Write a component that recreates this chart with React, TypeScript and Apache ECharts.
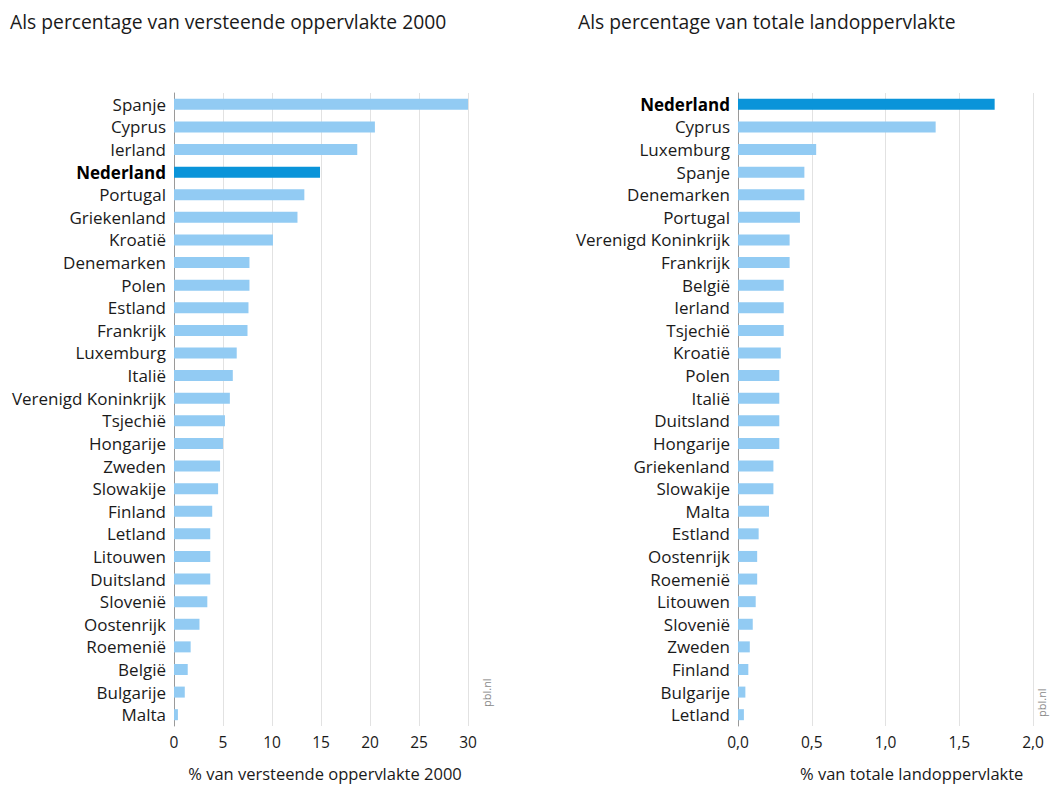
import React, { useEffect, useRef } from "react";
import * as echarts from "echarts";

const leftCategories = [
  "Spanje", "Cyprus", "Ierland", "Nederland", "Portugal", "Griekenland", "Kroatië",
  "Denemarken", "Polen", "Estland", "Frankrijk", "Luxemburg", "Italië",
  "Verenigd Koninkrijk", "Tsjechië", "Hongarije", "Zweden", "Slowakije", "Finland",
  "Letland", "Litouwen", "Duitsland", "Slovenië", "Oostenrijk", "Roemenië", "België",
  "Bulgarije", "Malta",
];
const leftValues = [
  30.0, 20.5, 18.7, 14.9, 13.3, 12.6, 10.1, 7.7, 7.7, 7.6, 7.5, 6.4, 6.0, 5.7, 5.2,
  5.0, 4.7, 4.5, 3.9, 3.7, 3.7, 3.7, 3.4, 2.6, 1.7, 1.4, 1.1, 0.4,
];

const rightCategories = [
  "Nederland", "Cyprus", "Luxemburg", "Spanje", "Denemarken", "Portugal",
  "Verenigd Koninkrijk", "Frankrijk", "België", "Ierland", "Tsjechië", "Kroatië",
  "Polen", "Italië", "Duitsland", "Hongarije", "Griekenland", "Slowakije", "Malta",
  "Estland", "Oostenrijk", "Roemenië", "Litouwen", "Slovenië", "Zweden", "Finland",
  "Bulgarije", "Letland",
];
const rightValues = [
  1.74, 1.34, 0.53, 0.45, 0.45, 0.42, 0.35, 0.35, 0.31, 0.31, 0.31, 0.29, 0.28, 0.28,
  0.28, 0.28, 0.24, 0.24, 0.21, 0.14, 0.13, 0.13, 0.12, 0.10, 0.08, 0.07, 0.05, 0.04,
];

const leftTitle = "Als percentage van versteende oppervlakte 2000";
const rightTitle = "Als percentage van totale landoppervlakte";
const leftAxisName = "% van versteende oppervlakte 2000";
const rightAxisName = "% van totale landoppervlakte";
const highlight = "Nederland";

const FONT = "Open Sans";
const LIGHT = "#92cbf3";
const DARK = "#0a94d9";
const TEXT = "#1a1a1a";

function barData(cats: string[], vals: number[]) {
  return vals.map((v, i) => ({
    value: v,
    itemStyle: { color: cats[i] === highlight ? DARK : LIGHT },
  }));
}

function yAxis(gridIndex: number, cats: string[]) {
  return {
    type: "category",
    gridIndex,
    data: cats,
    inverse: true,
    axisLine: { show: true, lineStyle: { color: "#9a9a9a", width: 1 } },
    axisTick: { show: false },
    axisLabel: {
      fontFamily: FONT,
      fontSize: 17,
      color: TEXT,
      margin: 8,
      formatter: (v: string) => (v === highlight ? `{b|${v}}` : v),
      rich: {
        b: { fontFamily: FONT, fontSize: 17, fontWeight: "bold", color: "#000" },
      },
    },
  };
}

function xAxis(gridIndex: number, max: number, interval: number, fmt: (v: number) => string) {
  return {
    type: "value",
    gridIndex,
    min: 0,
    max,
    interval,
    axisLine: { show: false },
    axisTick: { show: false },
    splitLine: { show: true, lineStyle: { color: "#e2e2e2", width: 1 } },
    axisLabel: {
      fontFamily: FONT,
      fontSize: 15.5,
      color: TEXT,
      margin: 8,
      formatter: fmt,
    },
  };
}

export default function App() {
  const ref = useRef<HTMLDivElement>(null);
  useEffect(() => {
    document.body.style.margin = "0";
    const chart = echarts.init(ref.current!, null, { renderer: "svg" });
    chart.setOption({
      animation: false,
      backgroundColor: "#ffffff",
      title: [
        {
          text: leftTitle,
          left: 5,
          top: 7,
          textStyle: { fontFamily: FONT, fontSize: 19.3, fontWeight: "normal", color: TEXT },
        },
        {
          text: rightTitle,
          left: 573,
          top: 7,
          textStyle: { fontFamily: FONT, fontSize: 19.3, fontWeight: "normal", color: TEXT },
        },
      ],
      grid: [
        { left: 174, width: 294, top: 93, height: 633 },
        { left: 738, width: 295, top: 93, height: 633 },
      ],
      xAxis: [
        xAxis(0, 30, 5, (v: number) => String(v)),
        xAxis(1, 2, 0.5, (v: number) => v.toFixed(1).replace(".", ",")),
      ],
      yAxis: [yAxis(0, leftCategories), yAxis(1, rightCategories)],
      series: [
        {
          type: "bar",
          xAxisIndex: 0,
          yAxisIndex: 0,
          barWidth: 11,
          data: barData(leftCategories, leftValues),
        },
        {
          type: "bar",
          xAxisIndex: 1,
          yAxisIndex: 1,
          barWidth: 11,
          data: barData(rightCategories, rightValues),
        },
      ],
      graphic: [
        {
          type: "text",
          x: 325,
          y: 765,
          style: {
            text: leftAxisName,
            fontFamily: FONT,
            fontSize: 16.5,
            fill: TEXT,
            align: "center",
          },
        },
        {
          type: "text",
          x: 800,
          y: 765,
          style: {
            text: rightAxisName,
            fontFamily: FONT,
            fontSize: 16.5,
            fill: TEXT,
            align: "left",
          },
        },
        {
          type: "text",
          x: 481,
          y: 707,
          rotation: Math.PI / 2,
          style: { text: "pbl.nl", fontFamily: FONT, fontSize: 11, fill: "#8a8a8a" },
        },
        {
          type: "text",
          x: 1036,
          y: 717,
          rotation: Math.PI / 2,
          style: { text: "pbl.nl", fontFamily: FONT, fontSize: 11, fill: "#8a8a8a" },
        },
      ],
    });
    return () => chart.dispose();
  }, []);
  return <div ref={ref} style={{ width: 1052, height: 785 }} />;
}
